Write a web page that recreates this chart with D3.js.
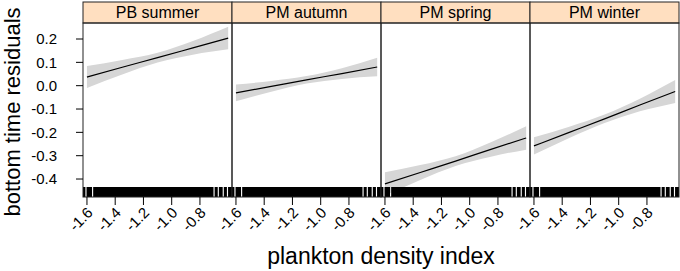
<!DOCTYPE html>
<html>
<head>
<meta charset="utf-8">
<script src="https://cdn.jsdelivr.net/npm/d3@7"></script>
<style>
    body { margin: 0; background: #fff; }
    text { font-family: "Liberation Sans", Arial, sans-serif; fill: #000; }
</style>
</head>
<body>
<div id="chart"></div>
<script>
// Panel labels (strip text)
const panels = ["PB summer", "PM autumn", "PM spring", "PM winter"];

// Points along the fitted line (plankton density index)
const xPoints = [-1.6, -1.35, -1.1, -0.85, -0.6];

// Fitted residual per panel at each x point
const fitValues = [
    [0.037, 0.079, 0.120, 0.162, 0.204],
    [-0.031, -0.003, 0.025, 0.052, 0.080],
    [-0.421, -0.372, -0.323, -0.273, -0.224],
    [-0.258, -0.200, -0.142, -0.083, -0.025]
];

// Half width of the confidence band at each x point
const bandHalfWidths = [
    [0.047, 0.031, 0.021, 0.029, 0.048],
    [0.036, 0.023, 0.016, 0.023, 0.040],
    [0.050, 0.032, 0.021, 0.031, 0.050],
    [0.037, 0.024, 0.018, 0.027, 0.049]
];

// Rug: stretches of x covered by observations
const rugSpans = [
    [-1.628, -1.611], [-1.603, -1.564], [-1.556, -0.704],
    [-0.696, -0.674], [-0.666, -0.639], [-0.631, -0.609], [-0.601, -0.573]
];

const xTicks = [-1.6, -1.4, -1.2, -1.0, -0.8];
const yTicks = [0.2, 0.1, 0.0, -0.1, -0.2, -0.3, -0.4];

// Layout
const width = 680, height = 271;
const padLeft = 83, padTop = 2, stripH = 21;
const panelW = 149, panelH = 174;

const xScale = d3.scaleLinear().domain([-1.628, -0.573]).range([0, panelW]);
const yScale = d3.scaleLinear().domain([-0.477, 0.2686]).range([panelH, 0]);

// R style labels: plain hyphen for minus
const fmt = d => d.toFixed(1);

const svg = d3.select("#chart").append("svg")
    .attr("width", width)
    .attr("height", height);

const line = d3.line()
    .x(d => xScale(d.x))
    .y(d => yScale(d.fit))
    .curve(d3.curveMonotoneX);

const band = d3.area()
    .x(d => xScale(d.x))
    .y0(d => yScale(d.fit - d.hw))
    .y1(d => yScale(d.fit + d.hw))
    .curve(d3.curveMonotoneX);

svg.append("defs").append("clipPath")
    .attr("id", "panel-clip")
    .append("rect")
    .attr("width", panelW)
    .attr("height", panelH);

panels.forEach((name, i) => {
    const px = padLeft + i * panelW;
    const py = padTop + stripH;

    // Strip
    svg.append("rect")
        .attr("x", px).attr("y", padTop)
        .attr("width", panelW).attr("height", stripH)
        .attr("fill", "#ffdfc0")
        .attr("stroke", "#222").attr("stroke-width", 1);

    svg.append("text")
        .attr("x", px + panelW / 2)
        .attr("y", padTop + stripH / 2)
        .attr("dy", "0.36em")
        .attr("text-anchor", "middle")
        .style("font-size", "16px")
        .text(name);

    const g = svg.append("g").attr("transform", `translate(${px},${py})`);
    const inner = g.append("g").attr("clip-path", "url(#panel-clip)");

    const pts = xPoints.map((x, j) => ({x: x, fit: fitValues[i][j], hw: bandHalfWidths[i][j]}));

    inner.append("path")
        .datum(pts)
        .attr("d", band)
        .attr("fill", "#d6d6d6");

    inner.append("path")
        .datum(pts)
        .attr("d", line)
        .attr("fill", "none")
        .attr("stroke", "#000")
        .attr("stroke-width", 1.2);

    // Rug
    inner.selectAll(".rug")
        .data(rugSpans)
        .enter().append("rect")
        .attr("class", "rug")
        .attr("x", d => xScale(d[0]))
        .attr("width", d => xScale(d[1]) - xScale(d[0]))
        .attr("y", panelH - 10)
        .attr("height", 10)
        .attr("fill", "#000");

    // Panel frame
    g.append("rect")
        .attr("width", panelW).attr("height", panelH)
        .attr("fill", "none")
        .attr("stroke", "#222").attr("stroke-width", 1);

    // Bottom axis
    const xa = g.append("g").attr("transform", `translate(0,${panelH})`);
    xa.selectAll("line")
        .data(xTicks)
        .enter().append("line")
        .attr("x1", d => xScale(d)).attr("x2", d => xScale(d))
        .attr("y1", 0).attr("y2", 8)
        .attr("stroke", "#000");
    xa.selectAll("text")
        .data(xTicks)
        .enter().append("text")
        .attr("transform", d => `translate(${xScale(d) + 3},${13}) rotate(-45)`)
        .attr("text-anchor", "end")
        .attr("dy", "0.35em")
        .style("font-size", "15px")
        .text(fmt);

    // Left axis only on first panel
    if (i === 0) {
        const ya = g.append("g");
        ya.selectAll("line")
            .data(yTicks)
            .enter().append("line")
            .attr("x1", -7).attr("x2", 0)
            .attr("y1", d => yScale(d)).attr("y2", d => yScale(d))
            .attr("stroke", "#000");
        ya.selectAll("text")
            .data(yTicks)
            .enter().append("text")
            .attr("x", -26)
            .attr("y", d => yScale(d))
            .attr("dy", "0.36em")
            .attr("text-anchor", "end")
            .style("font-size", "15px")
            .text(fmt);
    }
});

// Axis titles
svg.append("text")
    .attr("transform", `translate(${padLeft + 2 * panelW},264)`)
    .attr("text-anchor", "middle")
    .style("font-size", "23px")
    .text("plankton density index");

svg.append("text")
    .attr("transform", `translate(20,${padTop + stripH + panelH / 2 + 2}) rotate(-90)`)
    .attr("text-anchor", "middle")
    .style("font-size", "22px")
    .text("bottom time residuals");
</script>
</body>
</html>
